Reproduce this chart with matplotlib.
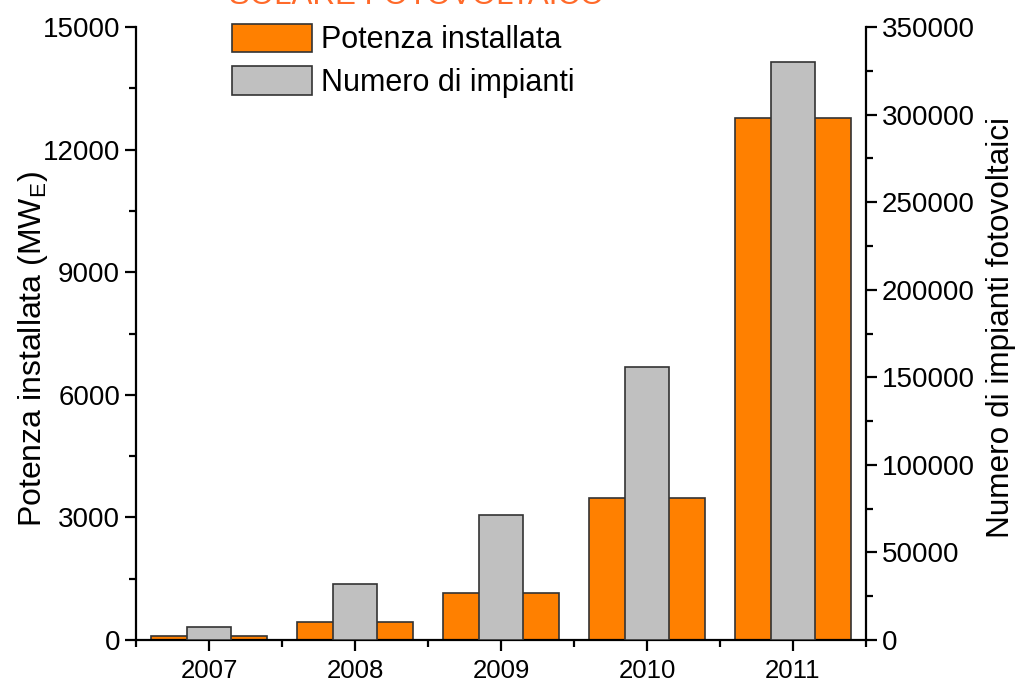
import matplotlib
matplotlib.use("Agg")
import matplotlib.pyplot as plt
from matplotlib.ticker import MultipleLocator
from matplotlib.patches import Patch

plt.rcParams['font.family'] = ['Liberation Sans', 'DejaVu Sans']
plt.rcParams['mathtext.fontset'] = 'custom'
plt.rcParams['mathtext.rm'] = 'Liberation Sans'

years = [2007, 2008, 2009, 2010, 2011]
potenza_mw = [87, 432, 1142, 3470, 12773]
numero_impianti = [7647, 32018, 71288, 155977, 330196]

orange = '#FF8000'
grey = '#C0C0C0'
edge = '#333333'

fig = plt.figure(figsize=(10.17, 6.84), dpi=100)
ax = fig.add_axes([136/1017, 44/684, 730/1017, 613/684])
ax2 = ax.twinx()

ax.bar(years, potenza_mw, width=0.8, color=orange, edgecolor=edge, linewidth=1.2, zorder=2)
ax2.bar(years, numero_impianti, width=0.3, color=grey, edgecolor=edge, linewidth=1.2, zorder=3)

ax.set_xlim(2006.5, 2011.5)
ax.set_ylim(0, 15000)
ax2.set_ylim(0, 350000)

ax.set_xticks(years)
ax.set_xticklabels([str(y) for y in years])
ax.set_xticks([2006.5, 2007.5, 2008.5, 2009.5, 2010.5, 2011.5], minor=True)
ax.yaxis.set_major_locator(MultipleLocator(3000))
ax.yaxis.set_minor_locator(MultipleLocator(1500))
ax2.yaxis.set_major_locator(MultipleLocator(50000))
ax2.yaxis.set_minor_locator(MultipleLocator(25000))

for a in (ax, ax2):
    a.spines['top'].set_visible(False)
    for s in a.spines.values():
        s.set_linewidth(1.6)
ax.spines['right'].set_visible(False)
ax2.spines['left'].set_visible(False)
ax2.spines['bottom'].set_visible(False)

ax.tick_params(axis='both', which='major', direction='out', length=8, width=1.6)
ax.tick_params(axis='both', which='minor', direction='out', length=5, width=1.6)
ax.tick_params(axis='x', which='major', pad=6, labelsize=18.5)
ax.tick_params(axis='y', which='major', labelsize=20)
ax2.tick_params(axis='y', which='major', direction='out', length=8, width=1.6, labelsize=20)
ax2.tick_params(axis='y', which='minor', direction='out', length=5, width=1.6)

ax.set_ylabel('Potenza installata (MW$_\\mathregular{E}$)', fontsize=23)
ax.yaxis.set_label_coords(-0.118, 0.475)
ax2.set_ylabel('Numero di impianti fotovoltaici', fontsize=22.7)
ax2.yaxis.set_label_coords(1.164, 0.509)

handles = [Patch(facecolor=orange, edgecolor=edge, linewidth=1.2, label='Potenza installata'),
           Patch(facecolor=grey, edgecolor=edge, linewidth=1.2, label='Numero di impianti')]
ax.legend(handles=handles, loc='upper left', bbox_to_anchor=(0.115, 1.025), frameon=False,
          fontsize=22, handlelength=2.6, handleheight=1.05, handletextpad=0.3, labelspacing=0.35,
          borderaxespad=0.0)

fig.text(0.41, 0.994, 'SOLARE FOTOVOLTAICO', color='#FF6A2A', fontsize=22.5, ha='center', va='baseline')

fig.savefig('out.png', dpi=100)
